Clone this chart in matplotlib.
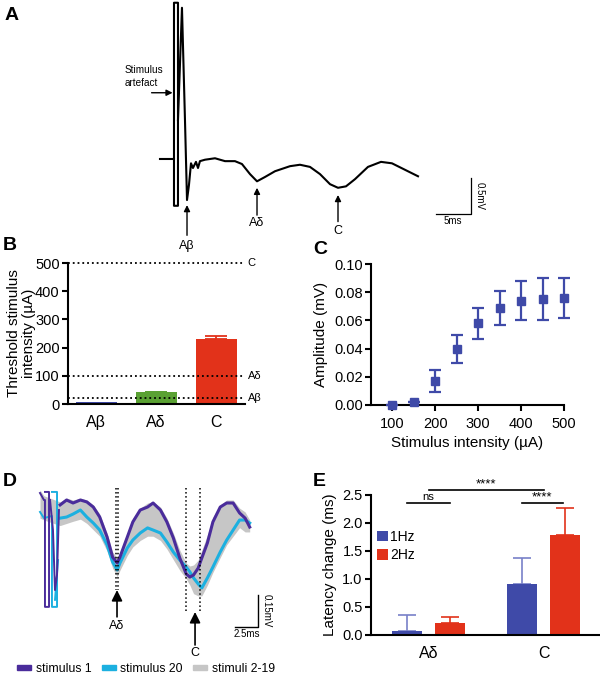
import numpy as np
import matplotlib
matplotlib.use('Agg')
import matplotlib.pyplot as plt
from matplotlib.patches import Patch

plt.rcParams['font.family'] = ['Liberation Sans', 'DejaVu Sans']
plt.rcParams['axes.linewidth'] = 1.5

# ---- data ----
# A: compound action potential trace (ms, mV); nan breaks the line
a_t = [-2.0, 0.0, 0.0, 0.57, 0.57, 0.0, 0.0, np.nan,
       0.57, 1.14, 1.57, 1.86, 2.14, 2.43, 2.71, 3.14, 3.43, 3.71, 4.43, 5.86,
       7.29, 8.71, 9.71, 10.86, 11.86, 13.0, 14.43, 16.57, 18.0, 19.43, 20.86,
       22.29, 23.43, 24.57, 25.86, 27.71, 29.57, 31.14, 33.0, 34.86]
a_v = [0.0, 0.0, 2.17, 2.17, -0.65, -0.65, 0.0, np.nan,
       0.54, 2.10, 0.54, -0.57, -0.36, -0.06, -0.125, -0.04, -0.125, -0.03, -0.01, 0.01,
       -0.03, -0.03, -0.07, -0.21, -0.31, -0.25, -0.17, -0.10, -0.08, -0.11, -0.21,
       -0.35, -0.40, -0.38, -0.28, -0.11, -0.04, -0.06, -0.15, -0.24]

# B: threshold stimulus intensity (uA)
fibres = ['Aβ', 'Aδ', 'C']
thresh = [8, 41, 230]
thresh_err = [0, 3, 12]
ref_levels = [20, 100, 500]

# C: amplitude vs stimulus intensity
intensity = [100, 150, 200, 250, 300, 350, 400, 450, 500]
amplitude = [0.000, 0.002, 0.017, 0.040, 0.058, 0.069, 0.074, 0.075, 0.076]
amp_err = [0.0, 0.0, 0.008, 0.010, 0.011, 0.012, 0.014, 0.015, 0.014]

# D: traces (ms, mV)
d_t = [2.3, 3.0, 3.7, 4.5, 5.2, 5.9, 6.6, 7.4, 8.0, 8.5, 8.8, 9.6, 10.2, 11.0,
       11.8, 12.4, 13.2, 13.9, 14.6, 15.3, 16.0, 16.4, 16.8, 17.3, 17.7, 18.3,
       18.9, 19.7, 20.4, 21.1, 21.8, 22.4, 22.9]
stim1 = [-0.023, 0.0, -0.014, 0.0, -0.009, -0.033, -0.080, -0.174, -0.268, -0.296,
         -0.268, -0.174, -0.103, -0.047, -0.033, -0.014, -0.047, -0.103, -0.178,
         -0.272, -0.347, -0.362, -0.352, -0.320, -0.272, -0.202, -0.103, -0.033,
         -0.014, -0.014, -0.061, -0.085, -0.127]
stim20 = [-0.085, -0.080, -0.066, -0.047, -0.080, -0.108, -0.141, -0.211, -0.291,
          -0.329, -0.296, -0.225, -0.188, -0.155, -0.131, -0.141, -0.155, -0.197,
          -0.244, -0.282, -0.315, -0.338, -0.366, -0.394, -0.413, -0.366, -0.315,
          -0.244, -0.188, -0.141, -0.094, -0.094, -0.108]
band_hi = [-0.009, 0.009, 0.0, 0.009, 0.0, -0.023, -0.066, -0.155, -0.244, -0.272,
           -0.244, -0.155, -0.085, -0.038, -0.014, -0.009, -0.033, -0.085, -0.155,
           -0.235, -0.296, -0.310, -0.305, -0.282, -0.235, -0.164, -0.080, -0.023,
           0.0, 0.0, -0.038, -0.056, -0.094]
band_lo = [-0.12, -0.11, -0.10, -0.09, -0.11, -0.14, -0.17, -0.24, -0.32, -0.36,
           -0.33, -0.26, -0.22, -0.19, -0.17, -0.17, -0.19, -0.23, -0.28, -0.33,
           -0.37, -0.40, -0.44, -0.45, -0.45, -0.40, -0.34, -0.27, -0.21, -0.17,
           -0.13, -0.15, -0.15]
# stimulus artefacts and early part of D
s1_start_t = [0.11, 0.54, 0.65, 0.65, 1.09, 1.09, 0.65, np.nan, 1.2, 1.52, 1.74, 1.96, 2.17]
s1_start_v = [0.033, 0.0, 0.0, -0.502, -0.502, 0.038, 0.038, np.nan, 0.0, -0.141, -0.423, -0.352, -0.047]
s20_start_t = [0.11, 0.54, 1.41, 1.41, 1.96, 1.96, 1.41, np.nan, 1.74, 2.07]
s20_start_v = [-0.056, -0.085, -0.075, -0.502, -0.502, 0.038, 0.038, np.nan, -0.469, -0.282]
band_start_t = [0.11, 0.54]
band_start_hi = [0.047, 0.020]
band_start_lo = [-0.085, -0.094]

# E: latency change (ms)
e_groups = ['Aδ', 'C']
lat_1hz = [0.07, 0.91]
lat_1hz_err = [0.28, 0.46]
lat_2hz = [0.21, 1.79]
lat_2hz_err = [0.12, 0.47]

BLUE = '#3f4aa8'
RED = '#e2321a'
GREEN = '#5aa133'
PURPLE = '#4a2c9b'
CYAN = '#1cb0e0'
GREY = '#c6c6c6'

fig = plt.figure(figsize=(6, 6.76), dpi=100)


def px_axes(l, t, r, b):
    return fig.add_axes([l / 600, 1 - b / 676, (r - l) / 600, (b - t) / 676])


def style(ax):
    for s in ['top', 'right']:
        ax.spines[s].set_visible(False)
    ax.tick_params(direction='out', length=4, width=1.5, labelsize=10.5, pad=2)


def panel_label(x, y, s):
    fig.text(x / 600, 1 - y / 676, s, fontsize=14, fontweight='bold', ha='left', va='center')


# ---- A ----
axA = px_axes(100, 0, 520, 250)
axA.axis('off')
axA.set_xlim(-10.57, 49.43)
axA.set_ylim(-1.264, 2.208)
axA.plot(a_t, a_v, color='k', lw=1.5)
arr = dict(arrowstyle='-|>', color='k', lw=1.0, mutation_scale=9, shrinkA=0, shrinkB=0)
axA.annotate('', xy=(-0.2, 0.92), xytext=(-3.2, 0.92), arrowprops=arr)
axA.text(-7.0, 0.99, 'Stimulus\nartefact', fontsize=7.2, ha='left', va='bottom', linespacing=1.4)
for t, tail, head, lab, ly in [(1.86, -1.06, -0.64, 'Aβ', -1.12),
                               (11.86, -0.78, -0.40, 'Aδ', -0.80),
                               (23.43, -0.87, -0.50, 'C', -0.91)]:
    axA.annotate('', xy=(t, head), xytext=(t, tail), arrowprops=arr)
    axA.text(t, ly, lab, fontsize=9, ha='center', va='top')
axA.plot([37.43, 42.43, 42.43], [-0.764, -0.764, -0.264], color='k', lw=0.9)
axA.text(39.9, -0.79, '5ms', fontsize=7, ha='center', va='top')
axA.text(43.0, -0.51, '0.5mV', fontsize=7, ha='left', va='center', rotation=-90)
panel_label(5, 15, 'A')

# ---- B ----
axB = px_axes(68, 263, 245, 404)
style(axB)
xb = np.arange(len(fibres))
axB.bar(xb, thresh, width=0.68, color=[BLUE, GREEN, RED], zorder=2)
for i in range(1, 3):
    c = [BLUE, GREEN, RED][i]
    axB.errorbar(xb[i], thresh[i], yerr=[[0], [thresh_err[i]]], fmt='none',
                 ecolor=c, elinewidth=1.3, capsize=8, capthick=1.3, zorder=1)
for lev, lab in zip(ref_levels, ['Aβ', 'Aδ', 'C']):
    axB.axhline(lev, color='k', ls=':', lw=1.3, zorder=3, clip_on=False)
    axB.text(1.015, lev, lab, transform=axB.get_yaxis_transform(), fontsize=8,
             ha='left', va='center')
axB.set_xlim(-0.47, 2.48)
axB.set_ylim(0, 500)
axB.set_yticks([0, 100, 200, 300, 400, 500])
axB.set_xticks(xb)
axB.set_xticklabels(fibres, fontsize=11.5)
axB.tick_params(axis='x', length=0, pad=8)
axB.set_ylabel('Threshold stimulus\nintensity (µA)', fontsize=11, linespacing=1.1)
axB.yaxis.set_label_coords(-0.18, 0.5)
panel_label(3, 245, 'B')

# ---- C ----
axC = px_axes(371, 264, 564, 405)
style(axC)
axC.errorbar(intensity, amplitude, yerr=amp_err, fmt='s', color=BLUE, ms=6,
             elinewidth=1.6, capsize=4, capthick=1.6, clip_on=False, zorder=3)
axC.set_xlim(50, 500)
axC.set_ylim(0, 0.1)
axC.set_xticks([100, 200, 300, 400, 500])
axC.set_yticks([0, 0.02, 0.04, 0.06, 0.08, 0.10])
axC.set_yticklabels(['%.2f' % v for v in [0, 0.02, 0.04, 0.06, 0.08, 0.10]])
axC.tick_params(axis='x', pad=5)
axC.set_xlabel('Stimulus intensity (µA)', fontsize=11, labelpad=3)
axC.set_ylabel('Amplitude (mV)', fontsize=11, labelpad=4)
panel_label(313, 250, 'C')

# ---- D ----
axD = px_axes(10, 470, 290, 655)
axD.axis('off')
axD.set_xlim(-3.15, 27.28)
axD.set_ylim(-0.728, 0.141)
axD.fill_between(band_start_t + d_t, band_start_lo + band_lo, band_start_hi + band_hi,
                 color=GREY, lw=0, zorder=1)
axD.plot(s20_start_t, s20_start_v, color=CYAN, lw=1.4, zorder=2)
axD.plot(d_t, stim20, color=CYAN, lw=2.2, zorder=2)
axD.plot(s1_start_t, s1_start_v, color=PURPLE, lw=1.4, zorder=3)
axD.plot(d_t, stim1, color=PURPLE, lw=2.2, zorder=3)
for t, top, bot in [(8.37, 0.056, -0.423), (8.59, 0.056, -0.423),
                    (15.98, 0.056, -0.526), (17.5, 0.056, -0.526)]:
    axD.plot([t, t], [top, bot], color='k', ls=':', lw=1.1, zorder=4)
arrD = dict(arrowstyle='-|>', color='k', lw=1.2, mutation_scale=16, shrinkA=0, shrinkB=0)
axD.annotate('', xy=(8.48, -0.423), xytext=(8.48, -0.549), arrowprops=arrD)
axD.text(8.48, -0.565, 'Aδ', fontsize=9, ha='center', va='top')
axD.annotate('', xy=(16.96, -0.526), xytext=(16.96, -0.681), arrowprops=arrD)
axD.text(16.96, -0.69, 'C', fontsize=9, ha='center', va='top')
axD.plot([21.3, 23.8, 23.8], [-0.596, -0.596, -0.446], color='k', lw=1.0)
axD.text(22.55, -0.605, '2.5ms', fontsize=7, ha='center', va='top')
axD.text(24.2, -0.52, '0.15mV', fontsize=7, ha='left', va='center', rotation=-90)
panel_label(3, 482, 'D')
handles = [Patch(color=PURPLE, label='stimulus 1'),
           Patch(color=CYAN, label='stimulus 20'),
           Patch(color=GREY, label='stimuli 2-19')]
fig.legend(handles=handles, loc='center', bbox_to_anchor=(146 / 600, 1 - 669 / 676),
           ncol=3, frameon=False, fontsize=8.8, handlelength=1.15, handleheight=0.3,
           handletextpad=0.4, columnspacing=0.8, borderpad=0)

# ---- E ----
axE = px_axes(371, 495, 600, 635)
style(axE)
xe = np.arange(len(e_groups))
off = 0.187
bw = 0.26
axE.bar(xe - off, lat_1hz, width=bw, color=BLUE, label='1Hz', zorder=2)
axE.bar(xe + off, lat_2hz, width=bw, color=RED, label='2Hz', zorder=2)
axE.errorbar(xe - off, lat_1hz, yerr=[[0, 0], lat_1hz_err], fmt='none', ecolor='#7880c8',
             elinewidth=1.2, capsize=6.5, capthick=1.2, zorder=1)
axE.errorbar(xe + off, lat_2hz, yerr=[[0, 0], lat_2hz_err], fmt='none', ecolor=RED,
             elinewidth=1.2, capsize=6.5, capthick=1.2, zorder=1)
axE.set_xlim(-0.5, 1.49)
axE.set_ylim(0, 2.5)
axE.set_yticks([0, 0.5, 1.0, 1.5, 2.0, 2.5])
axE.set_yticklabels(['%.1f' % v for v in [0, 0.5, 1.0, 1.5, 2.0, 2.5]])
axE.set_xticks(xe)
axE.set_xticklabels(e_groups, fontsize=11.5)
axE.tick_params(axis='x', length=0, pad=8)
axE.set_ylabel('Latency change (ms)', fontsize=11, labelpad=4)
# significance bars
axE.plot([-0.19, 0.19], [2.36, 2.36], color='k', lw=1.2, clip_on=False)
axE.text(0.0, 2.37, 'ns', fontsize=8.2, ha='center', va='bottom')
axE.plot([0.81, 1.17], [2.36, 2.36], color='k', lw=1.2, clip_on=False)
axE.text(0.99, 2.35, '****', fontsize=9.5, ha='center', va='bottom')
axE.plot([0.0, 1.0], [2.59, 2.59], color='k', lw=1.2, clip_on=False)
axE.text(0.5, 2.58, '****', fontsize=9.5, ha='center', va='bottom')
axE.legend(loc='upper left', bbox_to_anchor=(0.0, 0.79), frameon=False, fontsize=10,
           handlelength=0.8, handleheight=0.8, handletextpad=0.2, labelspacing=0.3,
           borderaxespad=0)
panel_label(313, 482, 'E')

fig.savefig('out.png', dpi=100)
